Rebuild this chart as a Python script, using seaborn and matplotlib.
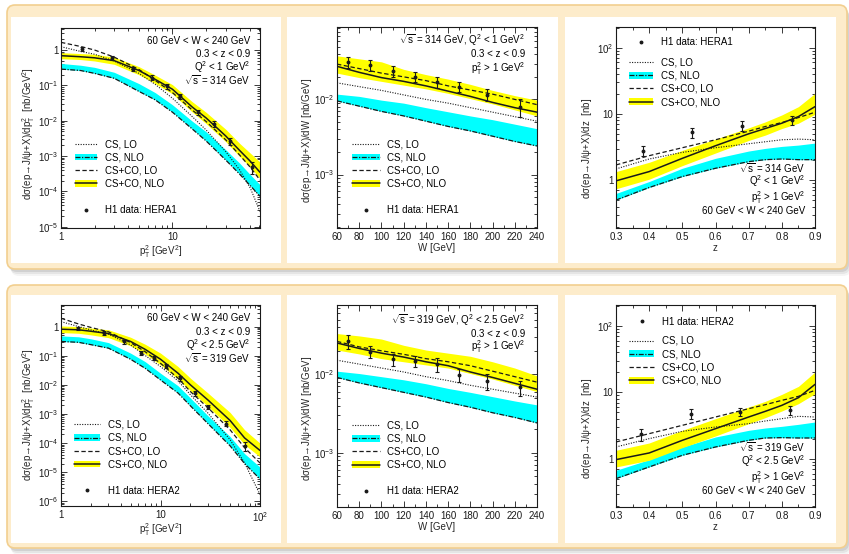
import numpy as np
import matplotlib
matplotlib.use("Agg")
import matplotlib.pyplot as plt
import seaborn as sns
from matplotlib.patches import FancyBboxPatch, Patch
from matplotlib.lines import Line2D
from matplotlib.ticker import LogLocator, FuncFormatter, NullFormatter, MultipleLocator

# pT^2 spectrum, HERA1
pt1_x = [1, 1.5, 2, 3, 5, 7, 10, 15, 20, 30, 40, 50, 61]
pt1_cs_lo = [0.094, -0.04, -0.12, -0.31, -0.66, -0.97, -1.365, -1.88, -2.26, -2.87, -3.39, -3.91, -4.57]
pt1_cs_nlo_lo = [-0.54, -0.58, -0.66, -0.80, -1.17, -1.41, -1.76, -2.23, -2.57, -3.11, -3.51, -3.84, -4.14]
pt1_cs_nlo_hi = [-0.38, -0.43, -0.49, -0.63, -0.95, -1.205, -1.55, -2.01, -2.31, -2.82, -3.20, -3.53, -3.81]
pt1_co_lo = [0.217, 0.10, 0.0, -0.20, -0.55, -0.86, -1.205, -1.695, -2.02, -2.54, -2.97, -3.32, -3.68]
pt1_co_nlo = [-0.16, -0.19, -0.22, -0.30, -0.58, -0.83, -1.11, -1.61, -1.92, -2.43, -2.84, -3.15, -3.46]
pt1_co_nlo_lo = [-0.245, -0.27, -0.31, -0.405, -0.70, -0.95, -1.24, -1.75, -2.08, -2.59, -3.01, -3.32, -3.64]
pt1_co_nlo_hi = [-0.075, -0.10, -0.12, -0.20, -0.47, -0.71, -0.98, -1.46, -1.76, -2.24, -2.64, -2.92, -3.17]
pt1_data_x = [1.53, 2.85, 4.46, 6.5, 8.9, 11.7, 16.9, 23.7, 33, 51.6]
pt1_data_y = [1.07, 0.60, 0.30, 0.166, 0.095, 0.050, 0.0174, 0.0081, 0.0026, 0.0005]
pt1_data_err = [0.15, 0.08, 0.04, 0.025, 0.014, 0.008, 0.003, 0.0015, 0.0006, 0.00018]

# W spectrum, HERA1
w_x = [60, 80, 100, 120, 140, 160, 180, 200, 220, 240]
w1_cs_lo = [-1.78, -1.83, -1.88, -1.94, -2.00, -2.05, -2.11, -2.17, -2.23, -2.29]
w1_cs_nlo_lo = [-2.02, -2.09, -2.16, -2.22, -2.29, -2.36, -2.42, -2.49, -2.56, -2.62]
w1_cs_nlo_hi = [-1.93, -1.96, -2.01, -2.05, -2.11, -2.165, -2.22, -2.27, -2.33, -2.39]
w1_co_lo = [-1.53, -1.59, -1.65, -1.70, -1.75, -1.82, -1.875, -1.93, -2.00, -2.07]
w1_co_nlo = [-1.56, -1.64, -1.71, -1.76, -1.82, -1.89, -1.96, -2.04, -2.11, -2.17]
w1_co_nlo_lo = [-1.65, -1.71, -1.76, -1.81, -1.86, -1.92, -1.99, -2.06, -2.14, -2.22]
w1_co_nlo_hi = [-1.42, -1.46, -1.50, -1.60, -1.67, -1.73, -1.80, -1.88, -1.95, -2.01]
w_data_x = [70, 90, 110, 130, 150, 170, 195, 225]
w1_data_y = [0.0316, 0.0288, 0.0240, 0.0200, 0.0170, 0.0148, 0.0115, 0.0079]
w1_data_err = [0.0054, 0.0049, 0.0041, 0.0032, 0.0027, 0.0024, 0.0021, 0.0021]

# z spectrum, HERA1
z_x = [0.3, 0.4, 0.5, 0.6, 0.7, 0.75, 0.8, 0.85, 0.9]
z1_cs_lo = [0.17, 0.32, 0.42, 0.49, 0.55, 0.58, 0.61, 0.62, 0.61]
z1_cs_nlo_lo = [-0.30, -0.11, 0.055, 0.18, 0.28, 0.31, 0.32, 0.31, 0.31]
z1_cs_nlo_hi = [-0.20, -0.02, 0.18, 0.33, 0.44, 0.48, 0.51, 0.53, 0.56]
z1_co_lo = [0.23, 0.37, 0.49, 0.61, 0.74, 0.81, 0.87, 0.945, 1.025]
z1_co_nlo = [-0.01, 0.13, 0.33, 0.52, 0.70, 0.78, 0.86, 0.96, 1.11]
z1_co_nlo_lo = [-0.13, 0.015, 0.22, 0.41, 0.60, 0.68, 0.78, 0.86, 0.995]
z1_co_nlo_hi = [0.13, 0.27, 0.45, 0.62, 0.79, 0.88, 0.985, 1.11, 1.31]
z1_data_x = [0.38, 0.53, 0.68, 0.83]
z1_data_y = [2.8, 5.3, 6.6, 8.1]
z1_data_err = [0.5, 0.9, 1.1, 1.3]

# pT^2 spectrum, HERA2
pt2_x = [1, 1.5, 2, 3, 5, 7, 10, 15, 20, 30, 50, 70, 100]
pt2_cs_lo = [0.17, 0.0, -0.115, -0.26, -0.63, -0.99, -1.37, -1.86, -2.34, -2.97, -3.88, -4.68, -5.76]
pt2_cs_nlo_lo = [-0.51, -0.54, -0.62, -0.74, -1.12, -1.43, -1.83, -2.28, -2.72, -3.33, -4.09, -4.70, -5.23]
pt2_cs_nlo_hi = [-0.32, -0.35, -0.42, -0.55, -0.91, -1.20, -1.60, -2.03, -2.45, -3.06, -3.77, -4.36, -4.82]
pt2_co_lo = [0.285, 0.09, -0.03, -0.18, -0.55, -0.86, -1.26, -1.77, -2.23, -2.785, -3.54, -4.155, -4.68]
pt2_co_nlo = [-0.09, -0.11, -0.16, -0.24, -0.51, -0.78, -1.12, -1.60, -2.00, -2.52, -3.22, -3.82, -4.25]
pt2_co_nlo_lo = [-0.205, -0.23, -0.285, -0.38, -0.66, -0.94, -1.31, -1.80, -2.20, -2.74, -3.46, -4.05, -4.47]
pt2_co_nlo_hi = [0.02, 0.0, -0.05, -0.11, -0.365, -0.605, -0.91, -1.37, -1.77, -2.28, -2.945, -3.54, -4.0]
pt2_data_x = [1.49, 2.73, 4.33, 6.4, 8.7, 11.4, 15.7, 22.2, 30.2, 46, 70.6]
pt2_data_y = [0.87, 0.59, 0.31, 0.129, 0.083, 0.046, 0.017, 0.0052, 0.0018, 4.7e-4, 8.1e-5]
pt2_data_err = [0.13, 0.09, 0.05, 0.022, 0.014, 0.008, 0.003, 0.0009, 0.0003, 9e-5, 2.8e-5]

# W spectrum, HERA2
w2_cs_lo = [-1.82, -1.87, -1.92, -1.97, -2.03, -2.08, -2.14, -2.19, -2.24, -2.29]
w2_cs_nlo_lo = [-2.04, -2.11, -2.17, -2.23, -2.29, -2.36, -2.42, -2.49, -2.55, -2.62]
w2_cs_nlo_hi = [-1.96, -1.99, -2.03, -2.07, -2.12, -2.18, -2.23, -2.285, -2.34, -2.39]
w2_co_lo = [-1.58, -1.65, -1.70, -1.745, -1.80, -1.84, -1.89, -1.96, -2.03, -2.10]
w2_co_nlo = [-1.60, -1.67, -1.73, -1.78, -1.84, -1.89, -1.97, -2.04, -2.115, -2.19]
w2_co_nlo_lo = [-1.69, -1.74, -1.80, -1.84, -1.88, -1.92, -1.99, -2.06, -2.14, -2.22]
w2_co_nlo_hi = [-1.48, -1.51, -1.55, -1.63, -1.69, -1.73, -1.77, -1.84, -1.92, -2.02]
w2_data_y = [0.0263, 0.0195, 0.0155, 0.0148, 0.0135, 0.0098, 0.0082, 0.0068]
w2_data_err = [0.0053, 0.0035, 0.0029, 0.0024, 0.0027, 0.0018, 0.0018, 0.0015]

# z spectrum, HERA2
z2_cs_lo = [0.18, 0.305, 0.415, 0.48, 0.53, 0.57, 0.605, 0.64, 0.63]
z2_cs_nlo_lo = [-0.295, -0.12, 0.055, 0.18, 0.28, 0.315, 0.32, 0.315, 0.315]
z2_cs_nlo_hi = [-0.17, -0.01, 0.18, 0.33, 0.43, 0.465, 0.49, 0.52, 0.555]
z2_co_lo = [0.255, 0.38, 0.505, 0.63, 0.755, 0.815, 0.88, 0.94, 1.03]
z2_co_nlo = [-0.01, 0.09, 0.28, 0.455, 0.63, 0.715, 0.805, 0.92, 1.12]
z2_co_nlo_lo = [-0.12, -0.02, 0.17, 0.345, 0.53, 0.62, 0.72, 0.83, 0.98]
z2_co_nlo_hi = [0.13, 0.24, 0.43, 0.605, 0.78, 0.865, 0.97, 1.09, 1.305]
z2_data_x = [0.375, 0.525, 0.675, 0.825]
z2_data_y = [2.34, 4.8, 5.1, 5.4]
z2_data_err = [0.45, 0.8, 0.7, 0.75]

# ---- style ----
sns.set_theme(style="ticks")
plt.rcParams['font.family'] = ['Liberation Sans', 'DejaVu Sans']
plt.rcParams.update({
    'mathtext.fontset': 'custom',
    'mathtext.rm': 'Liberation Sans',
    'mathtext.it': 'Liberation Sans:italic',
    'mathtext.bf': 'Liberation Sans:bold',
    'mathtext.default': 'regular',
    'axes.linewidth': 0.8,
    'axes.edgecolor': 'black',
    'text.color': 'black',
})

YELLOW = '#ffff00'
CYAN = '#00ffff'
DOT = (0, (1, 1.3))
DASH = (0, (3.5, 2))
DASHDOT = (0, (4, 1.2, 1, 1.2))
FS = 7

W, H = 849, 554
fig = plt.figure(figsize=(W / 100, H / 100), dpi=100)


def add_box(x0, y0, x1, y1, rounded=True, **kw):
    style = 'round,pad=0,rounding_size=0.08' if rounded else 'square,pad=0'
    p = FancyBboxPatch((x0 / 100, (H - y1) / 100), (x1 - x0) / 100, (y1 - y0) / 100,
                       boxstyle=style, transform=fig.dpi_scale_trans, **kw)
    fig.add_artist(p)


# two rounded frames with a soft shadow, three white panels in each
for y0, y1 in [(5, 269), (285, 548)]:
    for dx, dy, a in [(4, 7, 0.08), (3, 5, 0.12), (2, 3, 0.18)]:
        add_box(7 + dx, y0 + dy, 847 + dx, y1 + dy, facecolor='#7a7a7a', edgecolor='none',
                alpha=a, zorder=-30)
    add_box(7, y0, 847, y1, facecolor='#fdeccb', edgecolor='#f2cf8f', lw=1.2, zorder=-20)
for y0, y1 in [(17, 263), (295, 543)]:
    for x0, x1 in [(11, 281), (287, 558), (565, 836)]:
        add_box(x0, y0, x1, y1, rounded=False, facecolor='white', edgecolor='none', zorder=-10)


def pow10(v, pos):
    e = int(round(np.log10(v)))
    if e == 0:
        return '1'
    if e == 1:
        return '10'
    return r'$10^{%d}$' % e


def make_axes(x0, y0, x1, y1):
    return fig.add_axes([x0 / W, (H - y1) / H, (x1 - x0) / W, (y1 - y0) / H])


def draw_theory(ax, x, cs_lo, cs_nlo_lo, cs_nlo_hi, co_lo, co_nlo, co_nlo_lo, co_nlo_hi):
    p = lambda v: 10.0 ** np.asarray(v)
    ax.fill_between(x, p(cs_nlo_lo), p(cs_nlo_hi), color=CYAN, lw=0, zorder=1)
    ax.fill_between(x, p(co_nlo_lo), p(co_nlo_hi), color=YELLOW, lw=0, zorder=1)
    sns.lineplot(x=x, y=p(cs_lo), ax=ax, color='k', linestyle=DOT, lw=0.8, errorbar=None, zorder=3)
    sns.lineplot(x=x, y=p(cs_nlo_lo), ax=ax, color='k', linestyle=DASHDOT, lw=0.9, errorbar=None, zorder=3)
    sns.lineplot(x=x, y=p(co_lo), ax=ax, color='k', linestyle=DASH, lw=0.9, errorbar=None, zorder=3)
    sns.lineplot(x=x, y=p(co_nlo), ax=ax, color='k', linestyle='-', lw=1.1, errorbar=None, zorder=4)


def draw_data(ax, x, y, err):
    ax.errorbar(x, y, yerr=err, fmt='o', ms=1.8, color='k', elinewidth=0.8,
                capsize=1.4, capthick=0.8, zorder=6)


def style_axes(ax, logx=False):
    ax.set_yscale('log')
    ax.yaxis.set_major_locator(LogLocator(base=10, numticks=15))
    ax.yaxis.set_minor_locator(LogLocator(base=10, subs=np.arange(2, 10), numticks=15))
    ax.yaxis.set_major_formatter(FuncFormatter(pow10))
    ax.yaxis.set_minor_formatter(NullFormatter())
    if logx:
        ax.set_xscale('log')
        ax.xaxis.set_major_locator(LogLocator(base=10, numticks=15))
        ax.xaxis.set_minor_locator(LogLocator(base=10, subs=np.arange(2, 10), numticks=15))
        ax.xaxis.set_major_formatter(FuncFormatter(pow10))
        ax.xaxis.set_minor_formatter(NullFormatter())
    ax.tick_params(which='both', direction='in', top=True, right=True, colors='k',
                   labelsize=7, width=0.6)
    ax.tick_params(which='major', length=4)
    ax.tick_params(which='minor', length=2)
    ax.tick_params(axis='x', pad=3)
    ax.tick_params(axis='y', pad=2)
    ax.set_facecolor('white')
    for s in ax.spines.values():
        s.set_linewidth(0.8)
        s.set_color('k')


def handles(tag):
    h_cs_lo = Line2D([], [], color='k', linestyle=DOT, lw=0.8)
    h_cs_nlo = (Patch(facecolor=CYAN, edgecolor='none'),
                Line2D([], [], color='k', linestyle=DASHDOT, lw=0.9))
    h_co_lo = Line2D([], [], color='k', linestyle=DASH, lw=0.9)
    h_co_nlo = (Patch(facecolor=YELLOW, edgecolor='none'), Line2D([], [], color='k', lw=1.1))
    h_data = Line2D([], [], color='k', marker='o', ms=1.8, linestyle='none')
    curves = [h_cs_lo, h_cs_nlo, h_co_lo, h_co_nlo]
    names = ['CS, LO', 'CS, NLO', 'CS+CO, LO', 'CS+CO, NLO']
    return curves, names, h_data, 'H1 data: ' + tag


def legend_low(ax, tag, anchor, hl):
    curves, names, h_data, dname = handles(tag)
    blank = Line2D([], [], color='none')
    ax.legend(curves + [blank, h_data], names + [' ', dname], loc='center left',
              bbox_to_anchor=anchor, frameon=False, fontsize=FS, borderpad=0,
              borderaxespad=0, handlelength=hl, handletextpad=0.8, labelspacing=0.33)


def legend_top(ax, tag, anchor_data, anchor_curves, hl):
    curves, names, h_data, dname = handles(tag)
    leg = ax.legend([h_data], [dname], loc='center left', bbox_to_anchor=anchor_data,
                    frameon=False, fontsize=FS, borderpad=0, borderaxespad=0,
                    handlelength=hl, handletextpad=0.8)
    ax.add_artist(leg)
    ax.legend(curves, names, loc='center left', bbox_to_anchor=anchor_curves,
              frameon=False, fontsize=FS, borderpad=0, borderaxespad=0,
              handlelength=hl, handletextpad=0.8, labelspacing=0.33)


def notes(ax, lines, x, ys):
    for s, y in zip(lines, ys):
        ax.text(x, y, s, transform=ax.transAxes, ha='right', va='center', fontsize=FS, zorder=8)


ylab_pt = r'd$\sigma$(ep→J/ψ+X)/dp$_T^2$  [nb/GeV$^2$]'
ylab_w = r'd$\sigma$(ep→J/ψ+X)/dW [nb/GeV]'
ylab_z = r'd$\sigma$(ep→J/ψ+X)/dz  [nb]'
xlab_pt = r'p$_T^2$ [GeV$^2$]'

# ---- top row: HERA1 ----
ax1 = make_axes(61, 28, 260, 228)
style_axes(ax1, logx=True)
draw_theory(ax1, pt1_x, pt1_cs_lo, pt1_cs_nlo_lo, pt1_cs_nlo_hi, pt1_co_lo, pt1_co_nlo,
            pt1_co_nlo_lo, pt1_co_nlo_hi)
draw_data(ax1, pt1_data_x, pt1_data_y, pt1_data_err)
ax1.set(xlim=(1, 61), ylim=(9.2e-6, 4.2))
legend_low(ax1, 'HERA1', (0.07, 0.254), 2.3)
notes(ax1, ['60 GeV < W < 240 GeV', '0.3 < z < 0.9', r'Q$^2$ < 1 GeV$^2$', r'$\sqrt{s}$ = 314 GeV'],
      0.95, [0.935, 0.872, 0.806, 0.738])

ax2 = make_axes(337, 27, 537, 228)
style_axes(ax2)
draw_theory(ax2, w_x, w1_cs_lo, w1_cs_nlo_lo, w1_cs_nlo_hi, w1_co_lo, w1_co_nlo,
            w1_co_nlo_lo, w1_co_nlo_hi)
draw_data(ax2, w_data_x, w1_data_y, w1_data_err)
ax2.set(xlim=(60, 240), ylim=(1.94e-4, 0.092))
legend_low(ax2, 'HERA1', (0.074, 0.253), 2.85)
notes(ax2, [r'$\sqrt{s}$ = 314 GeV, Q$^2$ < 1 GeV$^2$', '0.3 < z < 0.9', r'p$_T^2$ > 1 GeV$^2$'],
      0.94, [0.935, 0.864, 0.795])

ax3 = make_axes(616, 27, 815, 228)
style_axes(ax3)
draw_theory(ax3, z_x, z1_cs_lo, z1_cs_nlo_lo, z1_cs_nlo_hi, z1_co_lo, z1_co_nlo,
            z1_co_nlo_lo, z1_co_nlo_hi)
draw_data(ax3, z1_data_x, z1_data_y, z1_data_err)
ax3.set(xlim=(0.3, 0.9), ylim=(0.19, 205))
legend_top(ax3, 'HERA1', (0.065, 0.924), (0.065, 0.725), 2.5)
notes(ax3, [r'$\sqrt{s}$ = 314 GeV', r'Q$^2$ < 1 GeV$^2$', r'p$_T^2$ > 1 GeV$^2$', '60 GeV < W < 240 GeV'],
      0.95, [0.299, 0.231, 0.152, 0.084])

# ---- bottom row: HERA2 ----
ax4 = make_axes(61, 305, 260, 506)
style_axes(ax4, logx=True)
draw_theory(ax4, pt2_x, pt2_cs_lo, pt2_cs_nlo_lo, pt2_cs_nlo_hi, pt2_co_lo, pt2_co_nlo,
            pt2_co_nlo_lo, pt2_co_nlo_hi)
draw_data(ax4, pt2_data_x, pt2_data_y, pt2_data_err)
ax4.set(xlim=(1, 100), ylim=(7e-7, 5.5))
legend_low(ax4, 'HERA2', (0.067, 0.24), 2.65)
notes(ax4, ['60 GeV < W < 240 GeV', '0.3 < z < 0.9', r'Q$^2$ < 2.5 GeV$^2$', r'$\sqrt{s}$ = 319 GeV'],
      0.95, [0.934, 0.866, 0.800, 0.733])

ax5 = make_axes(337, 305, 537, 507)
style_axes(ax5)
draw_theory(ax5, w_x, w2_cs_lo, w2_cs_nlo_lo, w2_cs_nlo_hi, w2_co_lo, w2_co_nlo,
            w2_co_nlo_lo, w2_co_nlo_hi)
draw_data(ax5, w_data_x, w2_data_y, w2_data_err)
ax5.set(xlim=(60, 240), ylim=(2.03e-4, 0.0766))
legend_low(ax5, 'HERA2', (0.074, 0.241), 2.85)
notes(ax5, [r'$\sqrt{s}$ = 319 GeV, Q$^2$ < 2.5 GeV$^2$', '0.3 < z < 0.9', r'p$_T^2$ > 1 GeV$^2$'],
      0.94, [0.925, 0.858, 0.792])

ax6 = make_axes(616, 305, 815, 507)
style_axes(ax6)
draw_theory(ax6, z_x, z2_cs_lo, z2_cs_nlo_lo, z2_cs_nlo_hi, z2_co_lo, z2_co_nlo,
            z2_co_nlo_lo, z2_co_nlo_hi)
draw_data(ax6, z2_data_x, z2_data_y, z2_data_err)
ax6.set(xlim=(0.3, 0.9), ylim=(0.19, 205))
legend_top(ax6, 'HERA2', (0.066, 0.917), (0.066, 0.724), 2.55)
notes(ax6, [r'$\sqrt{s}$ = 319 GeV', r'Q$^2$ < 2.5 GeV$^2$', r'p$_T^2$ > 1 GeV$^2$', '60 GeV < W < 240 GeV'],
      0.95, [0.294, 0.226, 0.147, 0.079])

# ---- shared axis furniture ----
for ax in (ax2, ax5):
    ax.xaxis.set_major_locator(MultipleLocator(20))
    ax.xaxis.set_minor_locator(MultipleLocator(10))
for ax in (ax3, ax6):
    ax.xaxis.set_major_locator(MultipleLocator(0.1))
    ax.xaxis.set_minor_locator(MultipleLocator(0.05))
    ax.xaxis.set_major_formatter(FuncFormatter(lambda v, pos: '%.1f' % v))

labels = [(ax1, xlab_pt, ylab_pt, -0.122, 0.47), (ax2, 'W [GeV]', ylab_w, -0.1135, 0.434),
          (ax3, 'z', ylab_z, -0.109, 0.395), (ax4, xlab_pt, ylab_pt, -0.122, 0.453),
          (ax5, 'W [GeV]', ylab_w, -0.1135, 0.44), (ax6, 'z', ylab_z, -0.109, 0.39)]
for ax, xl, yl, yx, yy in labels:
    ax.set_xlabel(xl, fontsize=FS)
    ax.set_ylabel(yl, fontsize=FS)
    ax.xaxis.set_label_coords(0.5, -0.075)
    ax.yaxis.set_label_coords(yx, yy)

fig.savefig('out.png', dpi=100)
